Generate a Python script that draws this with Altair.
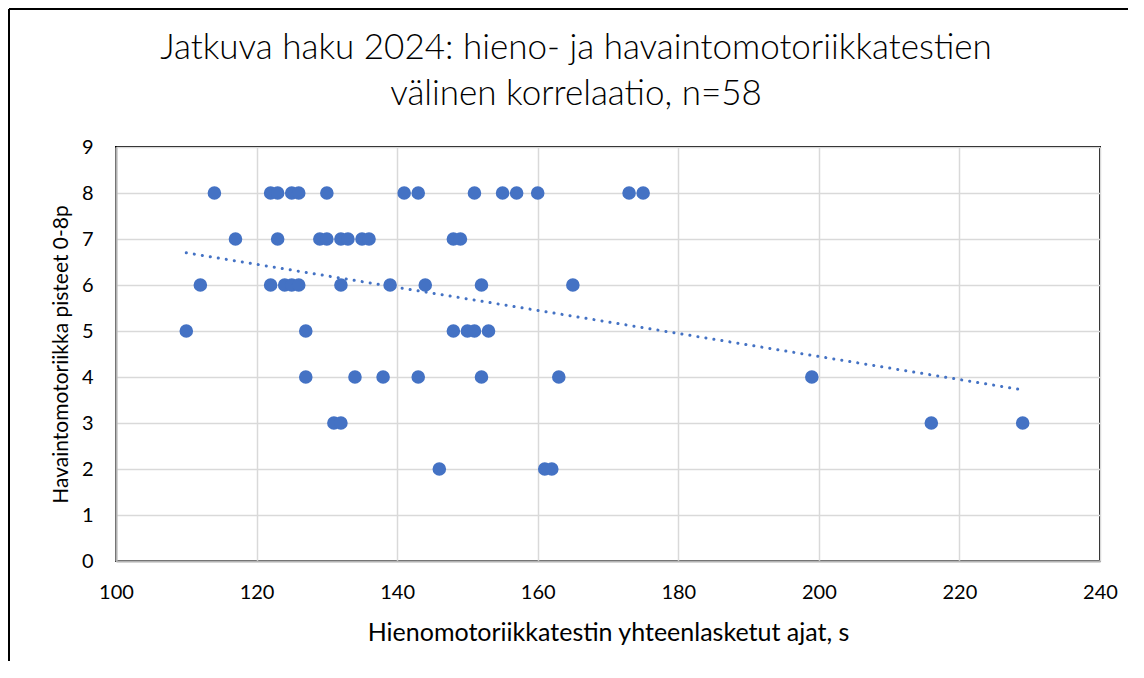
import altair as alt
import pandas as pd

# Data
x_values = [114, 122, 123, 125, 126, 130, 141, 143, 151, 155, 157, 160, 173, 175,
            117, 123, 129, 130, 132, 133, 135, 136, 148, 149,
            112, 122, 124, 125, 126, 132, 139, 144, 152, 165,
            110, 127, 148, 150, 151, 153,
            127, 134, 138, 143, 152, 163, 199,
            131, 132, 216, 229,
            146, 161, 162]
y_values = [8] * 14 + [7] * 10 + [6] * 10 + [5] * 6 + [4] * 7 + [3] * 4 + [2] * 3

trend_x = [110, 229]
trend_y = [6.70, 3.72]

x_ticks = [100, 120, 140, 160, 180, 200, 220, 240]
y_ticks = [0, 1, 2, 3, 4, 5, 6, 7, 8, 9]

title_lines = ["Jatkuva haku 2024: hieno- ja havaintomotoriikkatestien",
               "välinen korrelaatio, n=58"]
x_title = "Hienomotoriikkatestin yhteenlasketut ajat, s"
y_title = "Havaintomotoriikka pisteet 0-8p"

pts = pd.DataFrame({"x": x_values, "y": y_values})
trend = pd.DataFrame({"x": trend_x, "y": trend_y})
one = pd.DataFrame({"k": [0]})

FONT = "Lato"
BLUE = "#4472C4"

xscale = alt.Scale(domain=[100, 240], nice=False, zero=False)
yscale = alt.Scale(domain=[0, 9], nice=False, zero=False)

xaxis = alt.Axis(values=x_ticks, title=x_title, grid=True, ticks=False, labelFlush=False,
                 labelFont=FONT, labelFontSize=20, labelColor="black", labelPadding=21,
                 titleFont=FONT, titleFontSize=25, titleFontWeight="normal", titleColor="black",
                 titleY=79, titleBaseline="alphabetic",
                 domainColor="#b3b3b3", domainWidth=2,
                 gridColor="#d9d9d9", gridWidth=1.5)
yaxis = alt.Axis(values=y_ticks, title=y_title, grid=True, ticks=False, labelFlush=False,
                 labelFont=FONT, labelFontSize=20, labelColor="black", labelPadding=23,
                 titleFont=FONT, titleFontSize=21, titleFontWeight="normal", titleColor="black",
                 titleX=-49, titleBaseline="alphabetic",
                 domainColor="#b3b3b3", domainWidth=2,
                 gridColor="#d9d9d9", gridWidth=1.5)

points = alt.Chart(pts).mark_circle(size=185, color=BLUE, opacity=1).encode(
    x=alt.X("x:Q", scale=xscale, axis=xaxis),
    y=alt.Y("y:Q", scale=yscale, axis=yaxis),
)

trendline = alt.Chart(trend).mark_line(
    color=BLUE, strokeWidth=3, strokeDash=[0.1, 8], strokeCap="round"
).encode(
    x=alt.X("x:Q", scale=xscale, axis=xaxis),
    y=alt.Y("y:Q", scale=yscale, axis=yaxis),
)

frame_left = alt.Chart(one).mark_rule(color="black", strokeWidth=2).encode(
    x=alt.value(-107), y=alt.value(-138), y2=alt.value(560)
)
frame_top = alt.Chart(one).mark_rule(color="black", strokeWidth=2).encode(
    x=alt.value(-107), x2=alt.value(1060), y=alt.value(-138)
)

title1 = alt.Chart(one).mark_text(
    text=title_lines[0], font=FONT, fontSize=35, fontWeight=300, color="black",
    align="center", baseline="alphabetic"
).encode(x=alt.value(460), y=alt.value(-88))
title2 = alt.Chart(one).mark_text(
    text=title_lines[1], font=FONT, fontSize=35, fontWeight=300, color="black",
    align="center", baseline="alphabetic"
).encode(x=alt.value(460), y=alt.value(-42))

chart = alt.layer(points, trendline, frame_left, frame_top, title1, title2).properties(
    width=984,
    height=414,
    autosize="none",
    padding={"left": 108, "top": 139, "right": 28, "bottom": 100},
).configure(
    background="white",
    view=alt.ViewConfig(stroke="black", strokeWidth=2),
)

chart.save("out.html", embed_options={"renderer": "svg", "actions": False})
